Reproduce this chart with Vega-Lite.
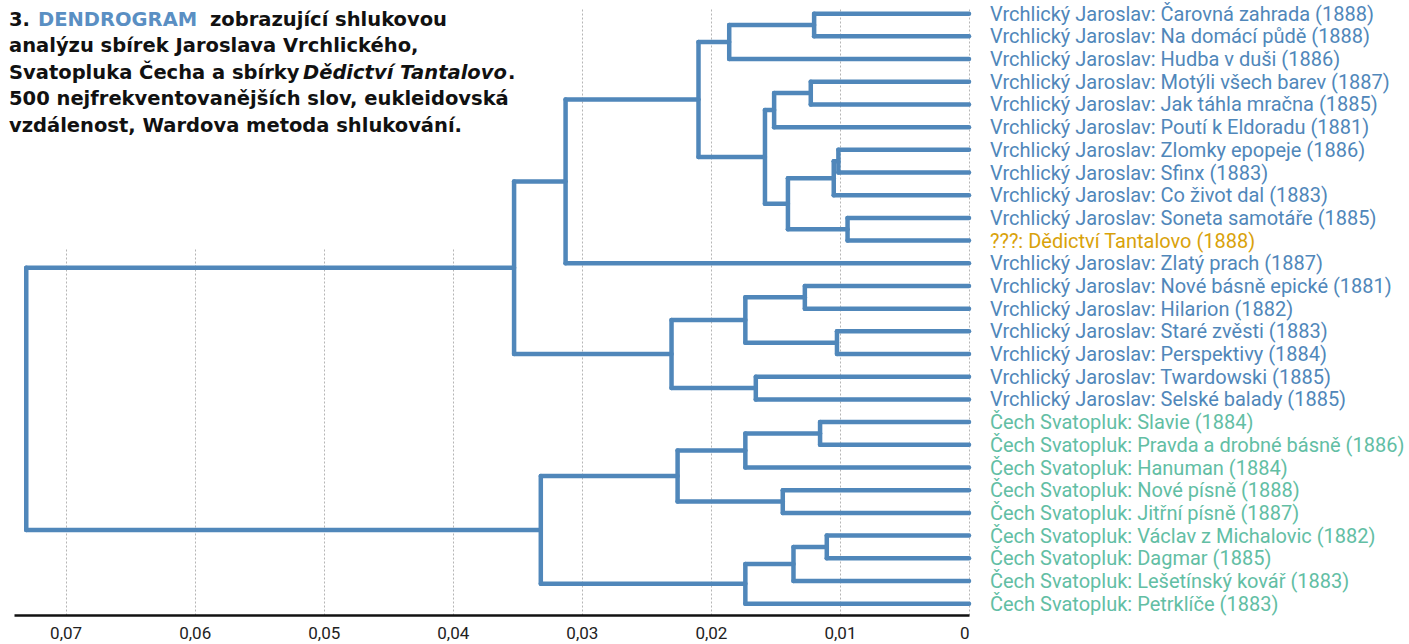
{
  "$schema": "https://vega.github.io/schema/vega-lite/v6.json",
  "width": 955,
  "height": 607,
  "autosize": {"type": "none"},
  "padding": {"left": 14, "top": 8, "right": 440, "bottom": 29},
  "background": "white",
  "config": {
    "view": {"stroke": null},
    "font": "Roboto"
  },
  "datasets": {
    "leaves": [
      {"i": 0, "name": "Vrchlický Jaroslav: Čarovná zahrada (1888)", "author": "Vrchlický"},
      {"i": 1, "name": "Vrchlický Jaroslav: Na domácí půdě (1888)", "author": "Vrchlický"},
      {"i": 2, "name": "Vrchlický Jaroslav: Hudba v duši (1886)", "author": "Vrchlický"},
      {"i": 3, "name": "Vrchlický Jaroslav: Motýli všech barev (1887)", "author": "Vrchlický"},
      {"i": 4, "name": "Vrchlický Jaroslav: Jak táhla mračna (1885)", "author": "Vrchlický"},
      {"i": 5, "name": "Vrchlický Jaroslav: Poutí k Eldoradu (1881)", "author": "Vrchlický"},
      {"i": 6, "name": "Vrchlický Jaroslav: Zlomky epopeje (1886)", "author": "Vrchlický"},
      {"i": 7, "name": "Vrchlický Jaroslav: Sfinx (1883)", "author": "Vrchlický"},
      {"i": 8, "name": "Vrchlický Jaroslav: Co život dal (1883)", "author": "Vrchlický"},
      {"i": 9, "name": "Vrchlický Jaroslav: Soneta samotáře (1885)", "author": "Vrchlický"},
      {"i": 10, "name": "???: Dědictví Tantalovo (1888)", "author": "???"},
      {"i": 11, "name": "Vrchlický Jaroslav: Zlatý prach (1887)", "author": "Vrchlický"},
      {"i": 12, "name": "Vrchlický Jaroslav: Nové básně epické (1881)", "author": "Vrchlický"},
      {"i": 13, "name": "Vrchlický Jaroslav: Hilarion (1882)", "author": "Vrchlický"},
      {"i": 14, "name": "Vrchlický Jaroslav: Staré zvěsti (1883)", "author": "Vrchlický"},
      {"i": 15, "name": "Vrchlický Jaroslav: Perspektivy (1884)", "author": "Vrchlický"},
      {"i": 16, "name": "Vrchlický Jaroslav: Twardowski (1885)", "author": "Vrchlický"},
      {"i": 17, "name": "Vrchlický Jaroslav: Selské balady (1885)", "author": "Vrchlický"},
      {"i": 18, "name": "Čech Svatopluk: Slavie (1884)", "author": "Čech"},
      {"i": 19, "name": "Čech Svatopluk: Pravda a drobné básně (1886)", "author": "Čech"},
      {"i": 20, "name": "Čech Svatopluk: Hanuman (1884)", "author": "Čech"},
      {"i": 21, "name": "Čech Svatopluk: Nové písně (1888)", "author": "Čech"},
      {"i": 22, "name": "Čech Svatopluk: Jitřní písně (1887)", "author": "Čech"},
      {"i": 23, "name": "Čech Svatopluk: Václav z Michalovic (1882)", "author": "Čech"},
      {"i": 24, "name": "Čech Svatopluk: Dagmar (1885)", "author": "Čech"},
      {"i": 25, "name": "Čech Svatopluk: Lešetínský kovář (1883)", "author": "Čech"},
      {"i": 26, "name": "Čech Svatopluk: Petrklíče (1883)", "author": "Čech"}
    ],
    "links": [
      {"h": 0.0120, "hl": 0, "yl": 0, "hr": 0, "yr": 1},
      {"h": 0.01858, "hl": 0.0120, "yl": 0.5, "hr": 0, "yr": 2},
      {"h": 0.01226, "hl": 0, "yl": 3, "hr": 0, "yr": 4},
      {"h": 0.0151, "hl": 0.01226, "yl": 3.5, "hr": 0, "yr": 5},
      {"h": 0.01012, "hl": 0, "yl": 6, "hr": 0, "yr": 7},
      {"h": 0.01048, "hl": 0.01012, "yl": 6.5, "hr": 0, "yr": 8},
      {"h": 0.00941, "hl": 0, "yl": 9, "hr": 0, "yr": 10},
      {"h": 0.01403, "hl": 0.01048, "yl": 7.25, "hr": 0.00941, "yr": 9.5},
      {"h": 0.01581, "hl": 0.0151, "yl": 4.25, "hr": 0.01403, "yr": 8.375},
      {"h": 0.02096, "hl": 0.01858, "yl": 1.25, "hr": 0.01581, "yr": 6.3125},
      {"h": 0.03126, "hl": 0.02096, "yl": 3.78125, "hr": 0, "yr": 11},
      {"h": 0.01272, "hl": 0, "yl": 12, "hr": 0, "yr": 13},
      {"h": 0.01023, "hl": 0, "yl": 14, "hr": 0, "yr": 15},
      {"h": 0.01733, "hl": 0.01272, "yl": 12.5, "hr": 0.01023, "yr": 14.5},
      {"h": 0.01652, "hl": 0, "yl": 16, "hr": 0, "yr": 17},
      {"h": 0.02305, "hl": 0.01733, "yl": 13.5, "hr": 0.01652, "yr": 16.5},
      {"h": 0.03525, "hl": 0.03126, "yl": 7.390625, "hr": 0.02305, "yr": 15},
      {"h": 0.01154, "hl": 0, "yl": 18, "hr": 0, "yr": 19},
      {"h": 0.01733, "hl": 0.01154, "yl": 18.5, "hr": 0, "yr": 20},
      {"h": 0.01443, "hl": 0, "yl": 21, "hr": 0, "yr": 22},
      {"h": 0.02258, "hl": 0.01733, "yl": 19.25, "hr": 0.01443, "yr": 21.5},
      {"h": 0.01102, "hl": 0, "yl": 23, "hr": 0, "yr": 24},
      {"h": 0.0136, "hl": 0.01102, "yl": 23.5, "hr": 0, "yr": 25},
      {"h": 0.01733, "hl": 0.0136, "yl": 24.25, "hr": 0, "yr": 26},
      {"h": 0.03318, "hl": 0.02258, "yl": 20.375, "hr": 0.01733, "yr": 25.125},
      {"h": 0.07305, "hl": 0.03525, "yl": 11.1953125, "hr": 0.03318, "yr": 22.75}
    ]
  },
  "layer": [
    {
      "data": {"values": [{}]},
      "mark": {"type": "rect", "color": "white"},
      "encoding": {
        "x": {
          "datum": 0.074,
          "type": "quantitative",
          "scale": {"domain": [0, 0.074], "reverse": true, "nice": false, "zero": false},
          "axis": {
            "values": [0, 0.01, 0.02, 0.03, 0.04, 0.05, 0.06, 0.07],
            "labelExpr": "datum.value == 0 ? '0' : replace(format(datum.value, '.2f'), '.', ',')",
            "title": null,
            "orient": "bottom",
            "ticks": false,
            "grid": true,
            "gridColor": "#b5b5b5",
            "gridDash": [2, 2],
            "gridWidth": 1,
            "domainColor": "#111111",
            "domainWidth": 2.5,
            "labelFont": "Roboto",
            "labelFontSize": 17,
            "labelColor": "#222222",
            "labelPadding": 10
          }
        },
        "x2": {"datum": 0.0344},
        "y": {
          "datum": -0.25,
          "type": "quantitative",
          "scale": {"domain": [-0.25, 26.5], "reverse": true, "nice": false, "zero": false},
          "axis": null
        },
        "y2": {"datum": 10.35}
      }
    },
    {
      "data": {"name": "links"},
      "mark": {"type": "rule", "color": "#5087ba", "strokeWidth": 4.5, "strokeCap": "round"},
      "encoding": {
        "x": {"field": "hl", "type": "quantitative"},
        "x2": {"field": "h"},
        "y": {"field": "yl", "type": "quantitative"}
      }
    },
    {
      "data": {"name": "links"},
      "mark": {"type": "rule", "color": "#5087ba", "strokeWidth": 4.5, "strokeCap": "round"},
      "encoding": {
        "x": {"field": "hr", "type": "quantitative"},
        "x2": {"field": "h"},
        "y": {"field": "yr", "type": "quantitative"}
      }
    },
    {
      "data": {"name": "links"},
      "mark": {"type": "rule", "color": "#5087ba", "strokeWidth": 4.5, "strokeCap": "round"},
      "encoding": {
        "x": {"field": "h", "type": "quantitative"},
        "y": {"field": "yl", "type": "quantitative"},
        "y2": {"field": "yr"}
      }
    },
    {
      "data": {"name": "leaves"},
      "mark": {"type": "text", "align": "left", "baseline": "middle", "dx": 21, "dy": 1, "fontSize": 20, "font": "Roboto"},
      "encoding": {
        "x": {"datum": 0, "type": "quantitative"},
        "y": {"field": "i", "type": "quantitative"},
        "text": {"field": "name"},
        "color": {
          "field": "author",
          "type": "nominal",
          "scale": {"domain": ["Vrchlický", "???", "Čech"], "range": ["#5087ba", "#d9a20a", "#62bea4"]},
          "legend": null
        }
      }
    },
    {
      "data": {"values": [
        {"t": "3.", "y": 0.28},
        {"t": "analýzu sbírek Jaroslava Vrchlického,", "y": 1.42},
        {"t": "Svatopluka Čecha a sbírky", "y": 2.61},
        {"t": "500 nejfrekventovanějších slov, eukleidovská", "y": 3.76},
        {"t": "vzdálenost, Wardova metoda shlukování.", "y": 4.95}
      ]},
      "mark": {"type": "text", "align": "left", "baseline": "middle", "dx": -5, "fontSize": 19.5, "fontWeight": "bold", "font": "DejaVu Sans", "color": "#111111"},
      "encoding": {
        "x": {"datum": 0.074, "type": "quantitative"},
        "y": {"field": "y", "type": "quantitative"},
        "text": {"field": "t"}
      }
    },
    {
      "data": {"values": [{"t": "DENDROGRAM", "y": 0.28}]},
      "mark": {"type": "text", "align": "left", "baseline": "middle", "dx": 24, "fontSize": 19.5, "fontWeight": "bold", "font": "DejaVu Sans", "color": "#5a8fc3"},
      "encoding": {
        "x": {"datum": 0.074, "type": "quantitative"},
        "y": {"field": "y", "type": "quantitative"},
        "text": {"field": "t"}
      }
    },
    {
      "data": {"values": [{"t": "zobrazující shlukovou", "y": 0.28}]},
      "mark": {"type": "text", "align": "left", "baseline": "middle", "dx": 196, "fontSize": 19.5, "fontWeight": "bold", "font": "DejaVu Sans", "color": "#111111"},
      "encoding": {
        "x": {"datum": 0.074, "type": "quantitative"},
        "y": {"field": "y", "type": "quantitative"},
        "text": {"field": "t"}
      }
    },
    {
      "data": {"values": [{"t": "Dědictví Tantalovo", "y": 2.61}]},
      "mark": {"type": "text", "align": "left", "baseline": "middle", "dx": 289, "fontSize": 19.5, "fontWeight": "bold", "fontStyle": "italic", "font": "DejaVu Sans", "color": "#111111"},
      "encoding": {
        "x": {"datum": 0.074, "type": "quantitative"},
        "y": {"field": "y", "type": "quantitative"},
        "text": {"field": "t"}
      }
    },
    {
      "data": {"values": [{"t": ".", "y": 2.61}]},
      "mark": {"type": "text", "align": "left", "baseline": "middle", "dx": 494, "fontSize": 19.5, "fontWeight": "bold", "font": "DejaVu Sans", "color": "#111111"},
      "encoding": {
        "x": {"datum": 0.074, "type": "quantitative"},
        "y": {"field": "y", "type": "quantitative"},
        "text": {"field": "t"}
      }
    }
  ]
}
